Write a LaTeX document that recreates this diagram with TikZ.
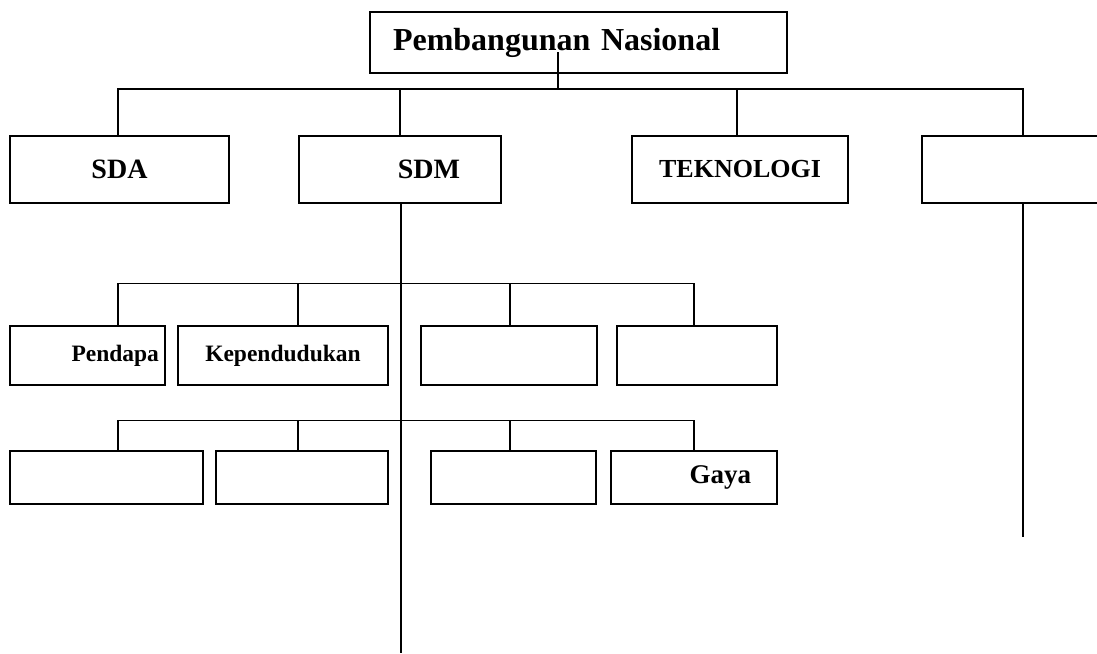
\documentclass[tikz,border=0pt]{standalone}
\usepackage{fontspec}
\setmainfont{Liberation Serif}

\begin{document}
\begin{tikzpicture}[
  x=1pt, y=-1pt,
  line width=1.2pt,
  kotak/.style={rectangle, draw=black, line width=1.3pt, inner ysep=0pt, inner xsep=0pt,
    font=\bfseries\fontsize{28}{30}\selectfont},
  kecil/.style={font=\bfseries\fontsize{23.5}{26}\selectfont}
]
  \useasboundingbox (0,0) rectangle (1097,653);
  \clip (0,0) rectangle (1097,653);

  \node (nasional) [kotak, minimum width=417, minimum height=61, inner xsep=23, text width=371,
    align=left, font=\bfseries\fontsize{32}{34}\selectfont] at (578.5,42.5) { Pembangunan Nasional };

  \node (sda) [kotak, minimum width=219, minimum height=67] at (119.5,169.5) { SDA };
  \node (sdm) [kotak, minimum width=202, minimum height=67, inner xsep=41, text width=120,
    align=right] at (400,169.5) { SDM };
  \node (tekno) [kotak, minimum width=216, minimum height=67,
    font=\bfseries\fontsize{26}{28}\selectfont] at (740,169.5) { TEKNOLOGI };
  \node (lain) [kotak, minimum width=202, minimum height=67] at (1023,169.5) {};

  \node (pendapa) [kotak, kecil, minimum width=155, minimum height=59, inner xsep=6, text width=143,
    align=right] at (87.5,355.5) { Pendapa };
  \node (kepend) [kotak, kecil, minimum width=210, minimum height=59] at (283,355.5) { Kependudukan };
  \node (sdmc) [kotak, minimum width=176, minimum height=59] at (509,355.5) {};
  \node (sdmd) [kotak, minimum width=160, minimum height=59] at (697,355.5) {};

  \node (sdme) [kotak, minimum width=193, minimum height=53] at (106.5,477.5) {};
  \node (sdmf) [kotak, minimum width=172, minimum height=53] at (302,477.5) {};
  \node (sdmg) [kotak, minimum width=165, minimum height=53] at (513.5,477.5) {};
  \node (gaya) [kotak, minimum width=166, minimum height=53, inner xsep=26, text width=114,
    align=right, font=\bfseries\fontsize{27}{29}\selectfont] at (694,477.5) { Gaya };

  \coordinate (sdmend) at (401,653);
  \coordinate (lainend) at (1023,537);

  % cabang utama
  \draw ([xshift=-20.5pt,yshift=-9.5pt]nasional.center) -- ++(0,37) coordinate (cabang);
  \draw ([xshift=-1.5pt]sda.north) |- (cabang) -| (lain.north);
  \draw (sdm.north) -- (sdm.north |- cabang);
  \draw ([xshift=-3pt]tekno.north) -- ([xshift=-3pt]tekno.north |- cabang);

  % garis turun
  \draw ([xshift=1pt]sdm.south) -- (sdmend);
  \draw (lain.south) -- (lainend);

  % baris ketiga
  \draw ([xshift=30.5pt]pendapa.north) -- ++(0,-42) -| ([xshift=-3pt]sdmd.north);
  \draw ([xshift=15pt]kepend.north) -- ++(0,-42);
  \draw ([xshift=1pt]sdmc.north) -- ++(0,-42);

  % baris keempat
  \draw ([xshift=11.5pt]sdme.north) -- ++(0,-30) -| (gaya.north);
  \draw ([xshift=-4pt]sdmf.north) -- ++(0,-30);
  \draw ([xshift=-3.5pt]sdmg.north) -- ++(0,-30);
\end{tikzpicture}
\end{document}
